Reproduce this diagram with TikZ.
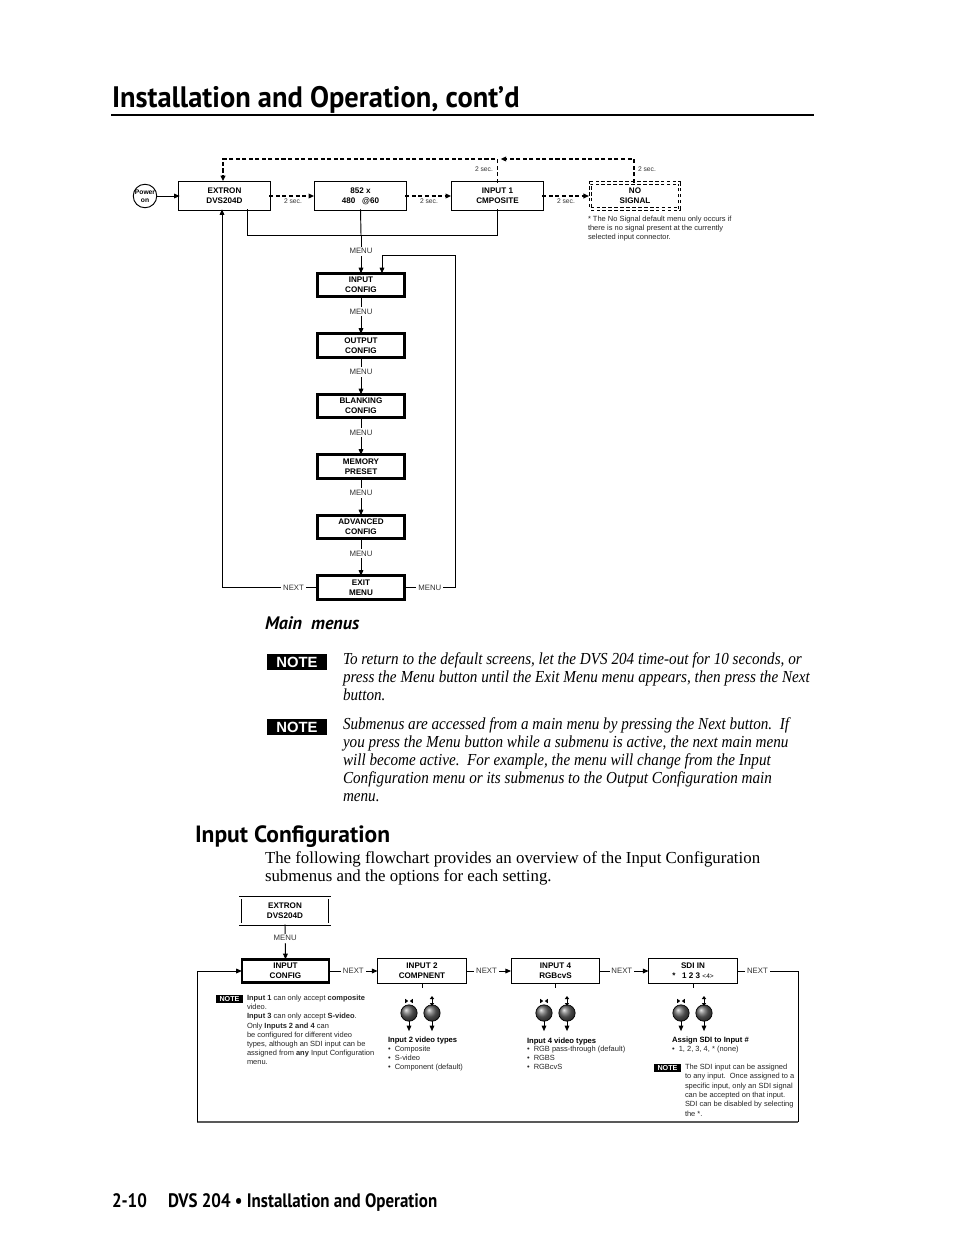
\documentclass[tikz,border=0pt]{standalone}
\usepackage{fontspec}
\setmainfont{Liberation Sans}
\newfontfamily\hfont{PT Sans}
\newfontfamily\hfontt[FakeStretch=0.96]{PT Sans}
\newfontfamily\hfontc[FakeStretch=0.87]{PT Sans}
\newfontfamily\tms{Liberation Serif}
\newfontfamily\tmsi[FakeStretch=0.9]{Liberation Serif}
\usetikzlibrary{arrows.meta,calc}
\newcommand{\knobs}[2]{%
  \node[btn] (#1l) at (#2,1013) {};
  \node[btn] (#1r) at ({#2+23},1013) {};
  \draw[arr] (#1l.south) -- ++(0,10);
  \draw[arr] (#1r.south) -- ++(0,10);
  \fill ({#2-0.8},1001) -- ++(-3,-2.2) -- ++(0,4.4) -- cycle;
  \fill ({#2+0.8},1001) -- ++(3,-2.2) -- ++(0,4.4) -- cycle;
  \fill ({#2+23},996) -- ++(-2.2,3) -- ++(4.4,0) -- cycle;
  \fill ({#2+23},1006) -- ++(-2.2,-3) -- ++(4.4,0) -- cycle;
  \draw[line width=0.4pt] ({#2+23},999) -- ({#2+23},1003);
}
\tikzset{
  every node/.style={inner sep=0pt, outer sep=0pt},
  ln/.style={line width=0.6pt},
  arr/.style={ln, -{Triangle[length=3.6pt,width=3pt]}},
  dsh/.style={line width=1.1pt, dash pattern=on 2.6pt off 1.6pt},
  dsharr/.style={dsh, -{Triangle[length=3.6pt,width=3pt]}},
  btxt/.style={font=\bfseries\fontsize{5.2}{6.4}\selectfont, align=center},
  dblbox/.style={btxt, draw, double, double distance=1.1pt, line width=0.5pt, minimum width=57.5pt, minimum height=17pt},
  dshbox/.style={btxt, draw, double, double distance=1.1pt, line width=0.6pt, dash pattern=on 2.4pt off 1.4pt, minimum width=57pt, minimum height=17pt},
  tbox/.style={btxt, draw, line width=1.7pt, minimum width=56pt, minimum height=15pt},
  nbox/.style={btxt, draw, line width=0.7pt, minimum width=57pt, minimum height=16pt},
  lab/.style={font=\fontsize{5}{6}\selectfont, text=black!80, fill=white, inner sep=1.2pt},
  sec/.style={font=\fontsize{4.3}{5}\selectfont, text=black!80},
  small/.style={font=\fontsize{4.8}{5.9}\selectfont, align=left, text=black!85},
  notebig/.style={fill=black, text=white, font=\bfseries\fontsize{9.5}{10}\selectfont, minimum width=39pt, minimum height=10.5pt},
  notesm/.style={fill=black, text=white, font=\bfseries\fontsize{4.6}{5}\selectfont, minimum width=17pt, minimum height=5.3pt},
  body/.style={anchor=base west, font=\tmsi\itshape\fontsize{10.8}{13}\selectfont},
  bodyr/.style={anchor=base west, font=\tms\fontsize{10.8}{13}\selectfont},
  btn/.style={circle, draw=black, line width=0.45pt, minimum size=10.5pt, ball color=black!60},
}
\begin{document}
\begin{tikzpicture}[x=0.6415pt,y=-0.6415pt]
\useasboundingbox[fill=white] (0,0) rectangle (954,1235);

% header
\node[anchor=base west, font=\hfontt\bfseries\fontsize{19}{20}\selectfont] (title) at (112,107) {Installation and Operation, cont’d};
\draw[line width=1.7pt] (111,115) -- (814,115);

% ---------- top row ----------
\node[circle, draw, line width=0.6pt, minimum size=14pt, font=\bfseries\fontsize{4.3}{4.8}\selectfont, align=center] (pw) at (145,196) {Power\\on};
\node[dblbox] (ext) at (224.5,196) {EXTRON\\DVS204D};
\node[dblbox] (r852) at (360.5,196) {852 x\\480\ \ \ @60};
\node[dblbox] (in1) at (497.5,196) {INPUT 1\\CMPOSITE};
\node[dshbox] (nos) at (635,196) {NO\\SIGNAL};

\draw[arr] (pw.east) -- (ext.west);
\draw[dsharr, shorten >=1pt] (ext.east) -- (r852.west);
\draw[dsharr, shorten >=1pt] (r852.east) -- (in1.west);
\draw[dsharr, shorten >=1pt] (in1.east) -- (nos.west);
\node[sec] (s1) at (293,201.5) {2 sec.};
\node[sec] (s2) at (429,201.5) {2 sec.};
\node[sec] (s3) at (566,201.5) {2 sec.};

\coordinate (tl) at (223,159);
\coordinate (tr) at (634,159);
\draw[dsharr, shorten >=1pt] (in1.north) -- (in1.north |- tl) -- (tl) -- (tl |- ext.north);
\draw[dsharr, shorten >=2pt] (tr |- nos.north) -- (tr) -- (in1.north |- tr);
\node[sec] (s4) at (484,169.5) {2 sec.};
\node[sec] (s5) at (647,169.5) {2 sec.};

\node[small, anchor=north west] (fn) at (588,216) {* The No Signal default menu only occurs if\\there is no signal present at the currently\\selected input connector.};

% ---------- main menu column ----------
\node[tbox] (icfg) at (361,285) {INPUT\\CONFIG};
\node[tbox] (ocfg) at (361,345.5) {OUTPUT\\CONFIG};
\node[tbox] (bcfg) at (361,406) {BLANKING\\CONFIG};
\node[tbox] (mpre) at (361,466.5) {MEMORY\\PRESET};
\node[tbox] (acfg) at (361,527) {ADVANCED\\CONFIG};
\node[tbox] (exit) at (361,587.5) {EXIT\\MENU};

\coordinate (ja) at (247,235);
\coordinate (jb) at (361,235);
\draw[ln] (ja |- ext.south) -- (ja) -- (in1.south |- ja) -- (in1.south);
\draw[ln] (r852.south) -- (jb);
\draw[arr] (jb) -- node[lab, pos=0.42]{MENU} (icfg.north);
\draw[arr] (icfg.south) -- node[lab, pos=0.4]{MENU} (ocfg.north);
\draw[arr] (ocfg.south) -- node[lab, pos=0.4]{MENU} (bcfg.north);
\draw[arr] (bcfg.south) -- node[lab, pos=0.4]{MENU} (mpre.north);
\draw[arr] (mpre.south) -- node[lab, pos=0.4]{MENU} (acfg.north);
\draw[arr] (acfg.south) -- node[lab, pos=0.4]{MENU} (exit.north);

\coordinate (rr) at (455,255);
\coordinate (rl) at (382,255);
\draw[arr] (exit.east) -- node[lab]{MENU} (exit.east -| rr) -- (rr) -- (rl) -- (rl |- icfg.north);
\coordinate (ll) at (222,400);
\draw[arr] (exit.west) -- node[lab, pos=0.25]{NEXT} (exit.west -| ll) -- (ll |- ext.south);

% ---------- text ----------
\node[anchor=base west, font=\hfont\bfseries\itshape\fontsize{11.6}{13}\selectfont] (mm) at (265,629) {Main\ \ menus};

\node[notebig] (n1) at (297,662) {NOTE};
\node[body] (l11) at (343,664) {To return to the default screens, let the DVS 204 time-out for 10 seconds, or};
\node[body] (l12) at (343,682) {press the Menu button until the Exit Menu menu appears, then press the Next};
\node[body] (l13) at (343,700) {button.};

\node[notebig] (n2) at (297,727) {NOTE};
\node[body] (l21) at (343,729) {Submenus are accessed from a main menu by pressing the Next button.\ \ If};
\node[body] (l22) at (343,747) {you press the Menu button while a submenu is active, the next main menu};
\node[body] (l23) at (343,765) {will become active.\ \ For example, the menu will change from the Input};
\node[body] (l24) at (343,783) {Configuration menu or its submenus to the Output Configuration main};
\node[body] (l25) at (343,801) {menu.};

\node[anchor=base west, font=\hfont\bfseries\fontsize{15.1}{16}\selectfont] (ich) at (195,842) {Input\ Configuration};
\node[bodyr] (p1) at (265,863) {The following flowchart provides an overview of the Input Configuration};
\node[bodyr] (p2) at (265,881) {submenus and the options for each setting.};

% ---------- input configuration flowchart ----------
\node[dblbox] (ext2) at (285,911) {EXTRON\\DVS204D};
\node[tbox] (icfg2) at (285.5,971) {INPUT\\CONFIG};
\node[nbox] (in2) at (422,971) {INPUT 2\\COMPNENT};
\node[nbox] (in4) at (555.5,971) {INPUT 4\\RGBcvS};
\node[nbox] (sdi) at (693,971) {SDI IN\\*\ \ \ 1 2 3 {\fontsize{4.2}{5}\selectfont\mdseries<4>}};

\draw[arr] (ext2.south) -- node[lab, pos=0.4]{MENU} (icfg2.north);
\draw[arr] (icfg2.east) -- node[lab]{NEXT} (in2.west);
\draw[arr] (in2.east) -- node[lab, pos=0.45]{NEXT} (in4.west);
\draw[arr] (in4.east) -- node[lab, pos=0.45]{NEXT} (sdi.west);
\coordinate (br) at (798,1122);
\coordinate (bl) at (197,1122);
\draw[ln] (sdi.east) -- node[lab, pos=0.33]{NEXT} (sdi.east -| br) -- (br);
\draw[line width=1pt, black!65] (br) -- (bl);
\draw[arr] (bl) -- (bl |- icfg2.west) -- (icfg2.west);

\draw[ln] (in2.south) -- ++(0,5);
\draw[ln] (in4.south) -- ++(0,5);
\draw[ln] (sdi.south) -- ++(0,5);

\knobs{ka}{409}
\knobs{kb}{544}
\knobs{kc}{681}

\node[anchor=base west, font=\bfseries\fontsize{4.9}{6}\selectfont] (t2) at (388,1042) {Input 2 video types};
\node[small, anchor=north west] (t2l) at (388,1046) {\textbullet\ \ Composite\\\textbullet\ \ S-video\\\textbullet\ \ Component (default)};
\node[anchor=base west, font=\bfseries\fontsize{4.9}{6}\selectfont] (t4) at (527,1043) {Input 4 video types};
\node[small, anchor=north west] (t4l) at (527,1046) {\textbullet\ \ RGB pass-through (default)\\\textbullet\ \ RGBS\\\textbullet\ \ RGBcvS};
\node[anchor=base west, font=\bfseries\fontsize{4.9}{6}\selectfont] (t5) at (672,1042) {Assign SDI to Input \#};
\node[small, anchor=north west] (t5l) at (672,1046) {\textbullet\ \ 1, 2, 3, 4, * (none)};

\node[notesm] (n3) at (229.5,999) {NOTE};
\node[small, anchor=north west] (n3t) at (247,995) {{\bfseries Input 1} can only accept {\bfseries composite}\\video.\\{\bfseries Input 3} can only accept {\bfseries S-video}.\\Only {\bfseries Inputs 2 and 4} can\\be configured for different video\\types, although an SDI input can be\\assigned from {\bfseries any} Input Configuration\\menu.};

\node[notesm] (n4) at (667.5,1068) {NOTE};
\node[small, anchor=north west, font=\fontsize{4.8}{6}\selectfont] (n4t) at (685,1064) {The SDI input can be assigned\\to any input.\ \ Once assigned to a\\specific input, only an SDI signal\\can be accepted on that input.\\SDI can be disabled by selecting\\the *.};

% footer
\node[anchor=base west, font=\hfontc\bfseries\fontsize{12.5}{14}\selectfont] (f1) at (112,1207) {2-10};
\node[anchor=base west, font=\hfontc\bfseries\fontsize{12.5}{14}\selectfont] (f2) at (168,1207) {DVS 204 • Installation and Operation};
\end{tikzpicture}
\end{document}
